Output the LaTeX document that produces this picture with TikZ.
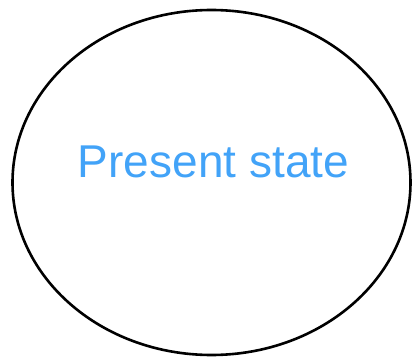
\documentclass[tikz,border=0pt]{standalone}
\usepackage{fontspec}
\setmainfont{Liberation Sans}
\definecolor{stateblue}{RGB}{66,163,248}
\begin{document}
\begin{tikzpicture}[x=1bp,y=1bp,
  statering/.style={draw=black,line width=2.6bp},
  statelabel/.style={text=stateblue,font=\fontsize{46bp}{50bp}\selectfont,inner sep=0pt,anchor=base}]
\useasboundingbox (0,0) rectangle (412,360);
\draw[statering] (211.5,177.5) ellipse [x radius=199, y radius=172.5];
\node[statelabel] (lbl) at (213.5,183) {Present state};
\end{tikzpicture}
\end{document}
